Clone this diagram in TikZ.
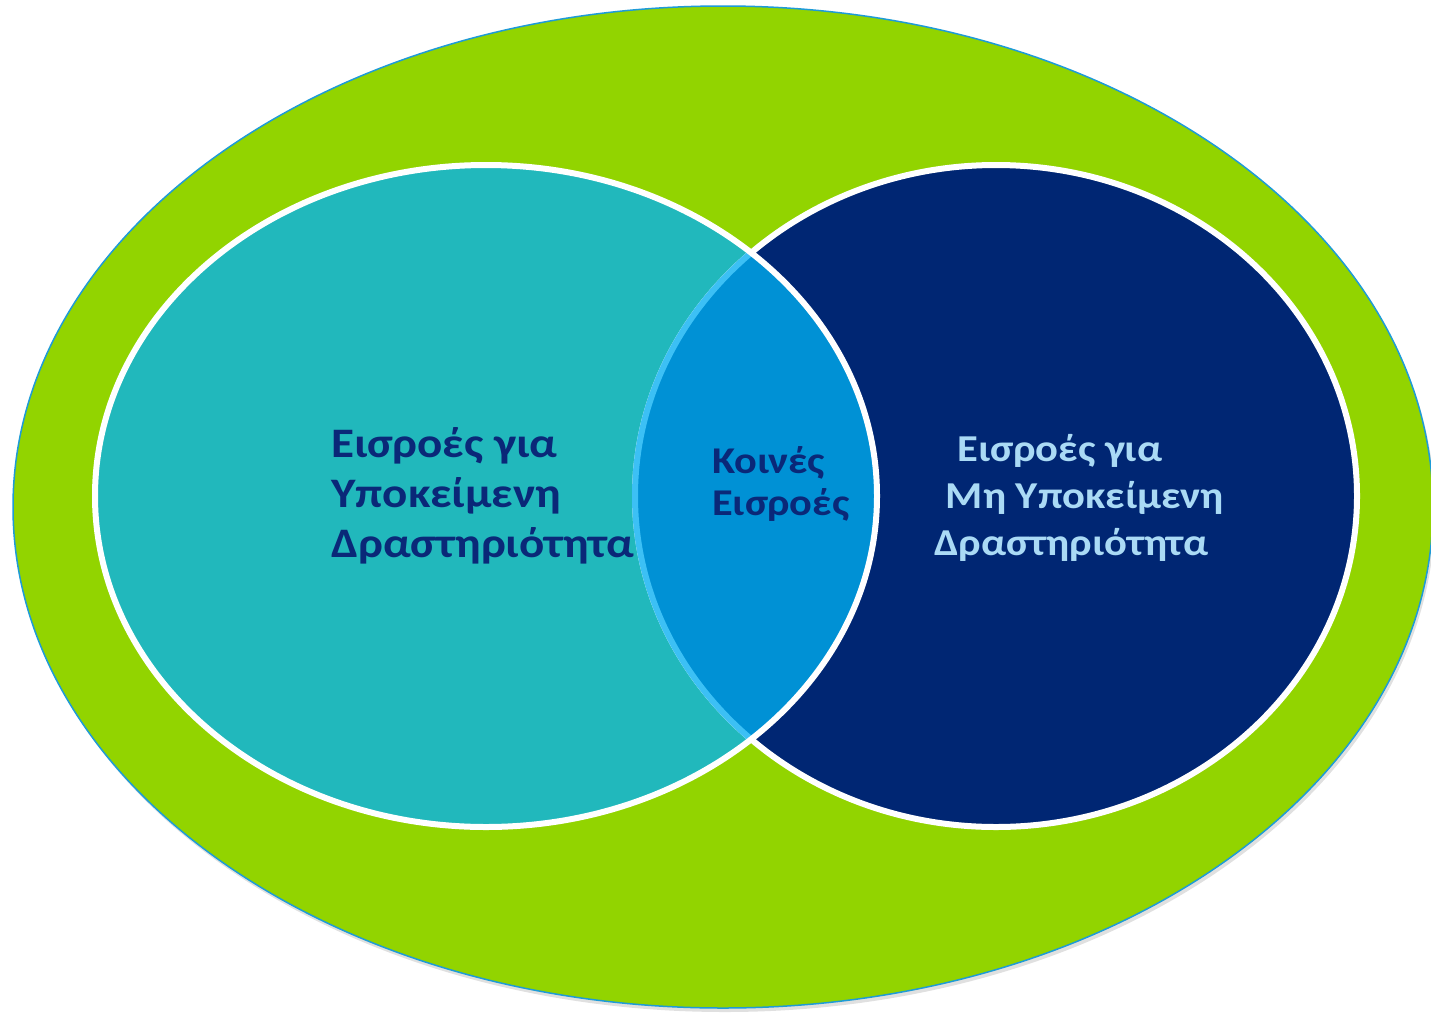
\documentclass[tikz,border=0pt]{standalone}
\usepackage{fontspec}
\setmainfont{Carlito}
\definecolor{outergreen}{RGB}{146,212,0}
\definecolor{outerline}{RGB}{30,155,215}
\definecolor{tealfill}{RGB}{33,184,188}
\definecolor{navyfill}{RGB}{0,38,115}
\definecolor{lensfill}{RGB}{0,145,213}
\definecolor{lensedge}{RGB}{60,192,245}
\definecolor{darktext}{RGB}{10,40,120}
\definecolor{lighttext}{RGB}{170,218,245}
\begin{document}
\begin{tikzpicture}[x=1pt,y=-1pt,
  whiteedge/.style={draw=white,line width=6pt},
  lbl/.style={inner sep=0pt,anchor=base west,align=left,transform shape}]
\useasboundingbox (0,0) rectangle (1431,1015);
\fill[white] (0,0) rectangle (1431,1015);
% soft shadow of the outer ellipse
\fill[black,opacity=0.12] (725,511) ellipse [x radius=710pt, y radius=501pt];
% outer ellipse
\filldraw[fill=outergreen,draw=outerline,line width=1.5pt] (723,507) ellipse [x radius=710pt, y radius=501pt];
% inner ellipses
\fill[tealfill] (486,496) ellipse [x radius=391pt, y radius=331pt];
\fill[navyfill] (996,496) ellipse [x radius=361pt, y radius=331pt];
\draw[whiteedge] (996,496) ellipse [x radius=361pt, y radius=331pt];
\begin{scope}
  \clip (486,496) ellipse [x radius=391pt, y radius=331pt];
  \fill[lensfill] (996,496) ellipse [x radius=361pt, y radius=331pt];
  \draw[draw=lensedge,line width=6pt] (996,496) ellipse [x radius=361pt, y radius=331pt];
\end{scope}
\draw[whiteedge] (486,496) ellipse [x radius=391pt, y radius=331pt];
% labels (anchored at the baseline of their last line), slightly widened
\begin{scope}[shift={(331,557)},xscale=1.12]
\node[lbl,text=darktext,font=\bfseries\fontsize{42}{50}\selectfont] (leftlbl) at (0,0)
  {Εισροές για\\Υποκείμενη\\Δραστηριότητα};
\end{scope}
\begin{scope}[shift={(712,515)},xscale=1.12]
\node[lbl,text=darktext,font=\bfseries\fontsize{37.8}{41.4}\selectfont] (midlbl) at (0,0)
  {Κοινές\\Εισροές};
\end{scope}
\begin{scope}[shift={(934,555)},xscale=1.12]
\node[lbl,text=lighttext,font=\bfseries\fontsize{38}{47}\selectfont] (rightlbl) at (0,0)
  {\hspace*{21pt}Εισροές για\\\hspace*{10.5pt}Μη Υποκείμενη\\Δραστηριότητα};
\end{scope}
\end{tikzpicture}
\end{document}
